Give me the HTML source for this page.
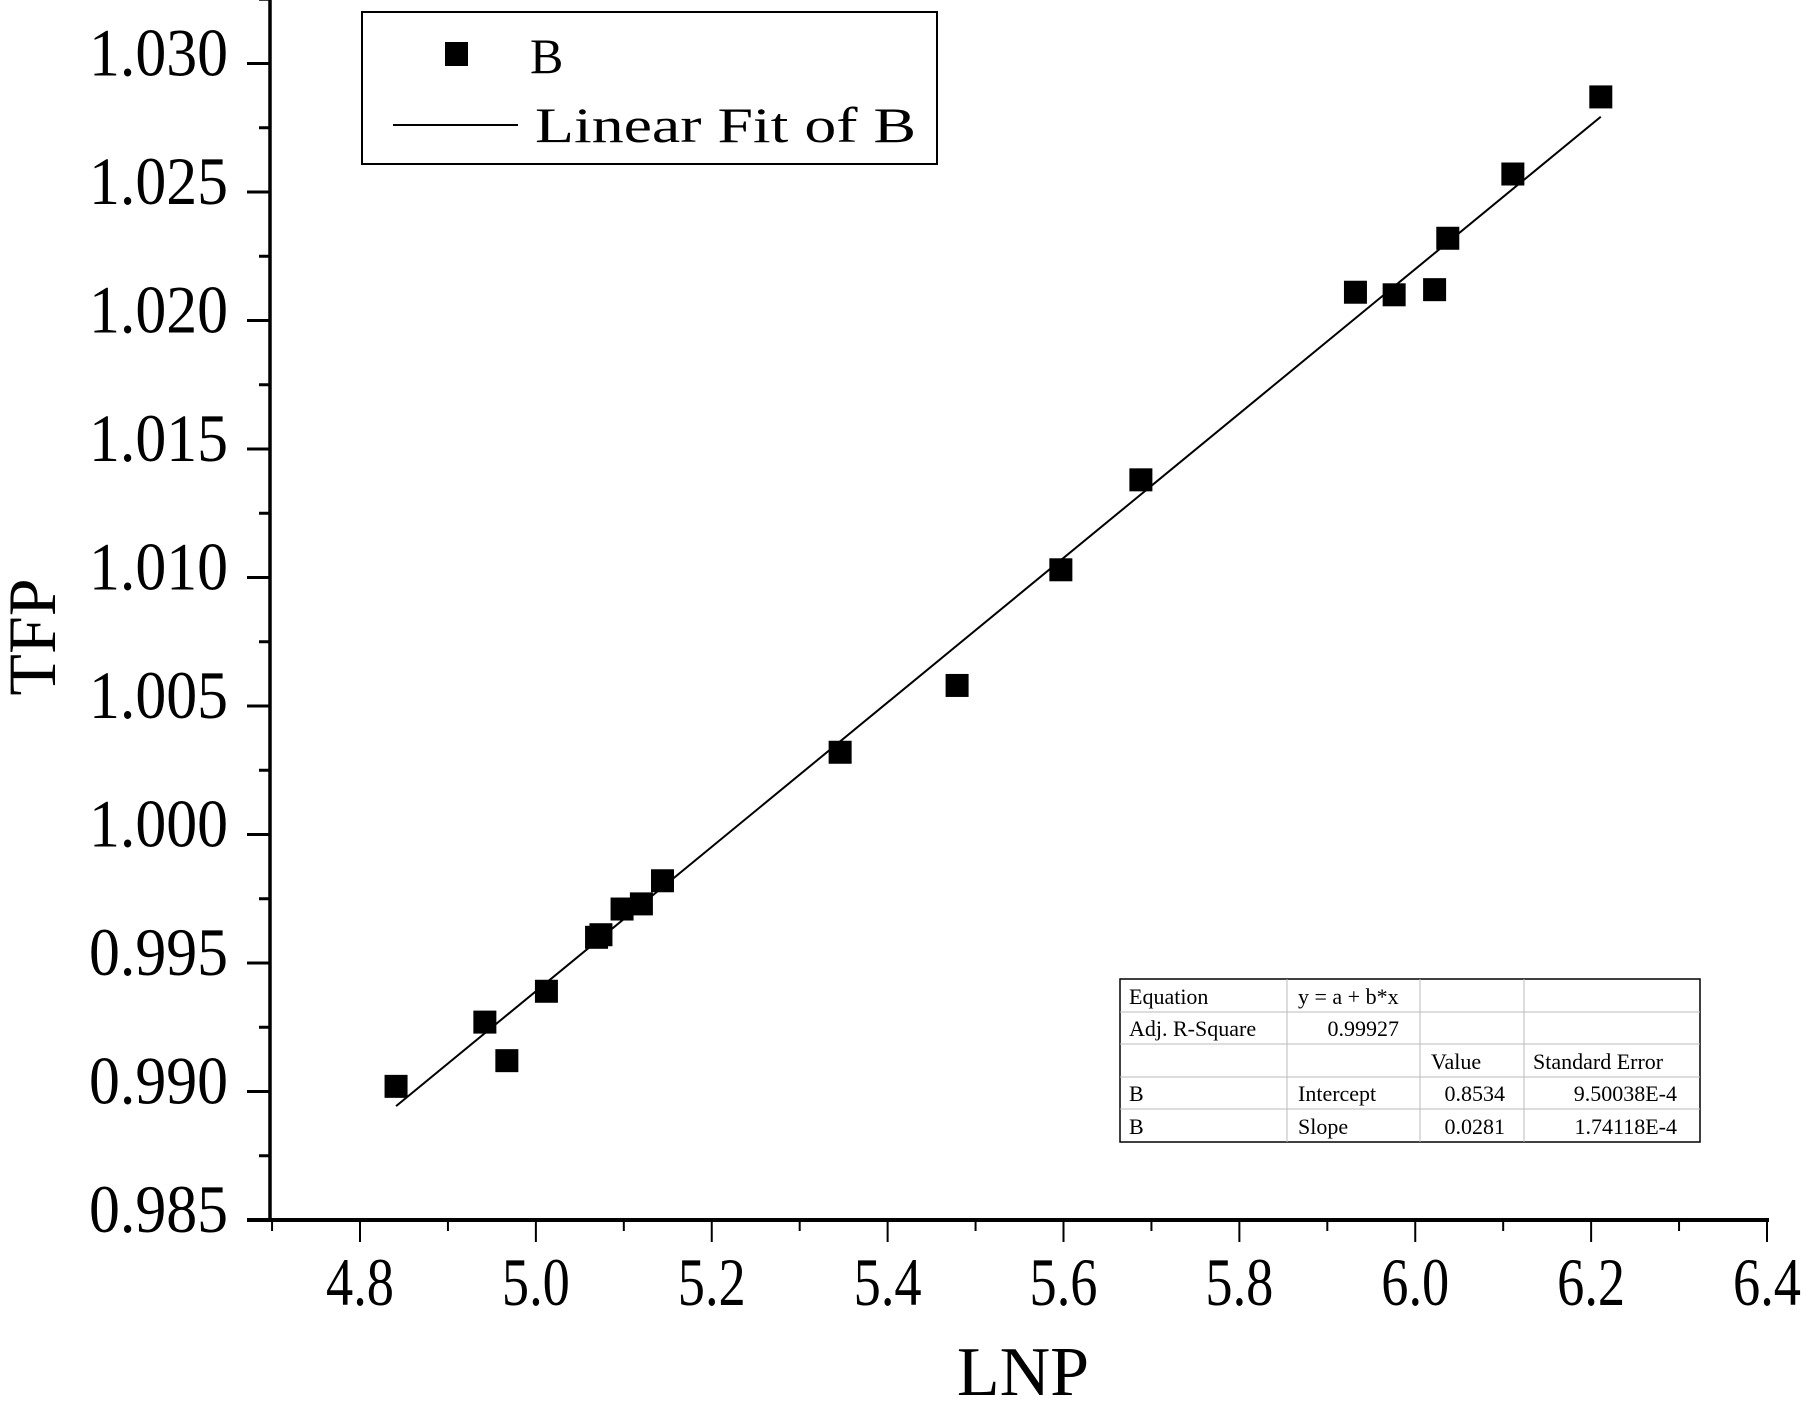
<!DOCTYPE html>
<html><head><meta charset="utf-8"><style>
html,body{margin:0;padding:0;background:#fff;}
svg{display:block;font-family:"Liberation Serif",serif;}
</style></head><body>
<svg id="chart" width="1806" height="1415" viewBox="0 0 1806 1415" xmlns="http://www.w3.org/2000/svg">
<rect width="1806" height="1415" fill="#fff"/>
<g id="axes"></g>
<g id="marks"></g>
<g>
<rect x="362" y="12" width="575" height="152" fill="#fff" stroke="#000" stroke-width="2"/>
<rect x="445" y="42" width="23" height="24" fill="#000"/>
<text x="530" y="73" font-size="50">B</text>
<line x1="393" y1="125" x2="518" y2="125" stroke="#000" stroke-width="2"/>
<text x="535" y="142" font-size="50" textLength="381" lengthAdjust="spacingAndGlyphs">Linear Fit of B</text>
</g>
<g font-size="22" stroke-width="1">
<rect x="1120" y="979" width="580" height="163" fill="#fff" stroke="#000" stroke-width="1.5"/>
<g stroke="#bbb">
<line x1="1120" y1="1012" x2="1700" y2="1012"/><line x1="1120" y1="1044" x2="1700" y2="1044"/>
<line x1="1120" y1="1077" x2="1700" y2="1077"/><line x1="1120" y1="1109" x2="1700" y2="1109"/>
<line x1="1287" y1="979" x2="1287" y2="1142"/><line x1="1420" y1="979" x2="1420" y2="1142"/>
<line x1="1524" y1="979" x2="1524" y2="1142"/>
</g>
<text x="1129" y="1004">Equation</text><text x="1298" y="1004">y = a + b*x</text>
<text x="1129" y="1036">Adj. R-Square</text><text x="1399" y="1036" text-anchor="end">0.99927</text>
<text x="1431" y="1069">Value</text><text x="1533" y="1069">Standard Error</text>
<text x="1129" y="1101">B</text><text x="1298" y="1101">Intercept</text><text x="1505" y="1101" text-anchor="end">0.8534</text><text x="1677" y="1101" text-anchor="end">9.50038E-4</text>
<text x="1129" y="1134">B</text><text x="1298" y="1134">Slope</text><text x="1505" y="1134" text-anchor="end">0.0281</text><text x="1677" y="1134" text-anchor="end">1.74118E-4</text>
</g>
<text transform="translate(55,637) rotate(-90)" text-anchor="middle" font-size="68">TFP</text>
<text x="1023" y="1395" text-anchor="middle" font-size="70">LNP</text>
</svg>
<script>
const lnpValues = [4.841,4.942,4.967,5.012,5.069,5.074,5.098,5.120,5.144,5.346,5.479,5.597,5.688,5.932,5.976,6.022,6.037,6.111,6.211];
const tfpValues = [0.9902,0.9927,0.9912,0.9939,0.9960,0.9961,0.9971,0.9973,0.9982,1.0032,1.0058,1.0103,1.0138,1.0211,1.0210,1.0212,1.0232,1.0257,1.0287];
const fitParams = [0.8534, 0.0281];
const xTicks = [4.8,5.0,5.2,5.4,5.6,5.8,6.0,6.2,6.4];
const xTickLabels = ["4.8","5.0","5.2","5.4","5.6","5.8","6.0","6.2","6.4"];
const yTicks = [0.985,0.990,0.995,1.000,1.005,1.010,1.015,1.020,1.025,1.030];
const yTickLabels = ["0.985","0.990","0.995","1.000","1.005","1.010","1.015","1.020","1.025","1.030"];

const NS = "http://www.w3.org/2000/svg";
function sx(v){ return 360 + (v-4.8)/0.2*175.875; }
function sy(v){ return 1220 - (v-0.985)/0.005*128.5; }
function mk(tag, attrs, parent){ const e=document.createElementNS(NS,tag); for(const k in attrs) e.setAttribute(k,attrs[k]); parent.appendChild(e); return e; }
const axes=document.getElementById('axes'), marks=document.getElementById('marks');
let el;
el = mk('line',{x1:270,y1:0,x2:270,y2:1222,stroke:'#000','stroke-width':3.5},axes);


el = mk('line',{x1:247,y1:1220,x2:1769,y2:1220,stroke:'#000','stroke-width':4},axes);


xTicks.forEach((t,i)=>{
  const x=sx(t);
  el = mk('line',{x1:x,y1:1220,x2:x,y2:1242,stroke:'#000','stroke-width':2},axes);
  
  
  const mx=sx(t-0.1);
  el = mk('line',{x1:mx,y1:1220,x2:mx,y2:1231,stroke:'#000','stroke-width':2},axes);
  
  
  el = mk('text',{x:x,y:1305,'text-anchor':'middle','font-size':68,textLength:68,lengthAdjust:'spacingAndGlyphs'},axes);
  el.textContent=xTickLabels[i];
  
  
});
yTicks.forEach((t,i)=>{
  const y=sy(t);
  el = mk('line',{x1:247,y1:y,x2:270,y2:y,stroke:'#000','stroke-width':3},axes);
  
  
  const my=sy(t+0.0025);
  el = mk('line',{x1:259,y1:my,x2:270,y2:my,stroke:'#000','stroke-width':3},axes);
  
  
  el = mk('text',{x:228,y:y+12,'text-anchor':'end','font-size':68,textLength:139,lengthAdjust:'spacingAndGlyphs'},axes);
  el.textContent=yTickLabels[i];
  
  
});
const xmin=Math.min(...lnpValues), xmax=Math.max(...lnpValues);
el = mk('line',{x1:sx(xmin),y1:sy(fitParams[0]+fitParams[1]*xmin),x2:sx(xmax),y2:sy(fitParams[0]+fitParams[1]*xmax),stroke:'#000','stroke-width':2},marks);


lnpValues.forEach((v,i)=>{
  el = mk('rect',{x:sx(v)-11.5,y:sy(tfpValues[i])-11.5,width:23,height:23,fill:'#000'},marks);
  
  
});
</script>
</body></html>
